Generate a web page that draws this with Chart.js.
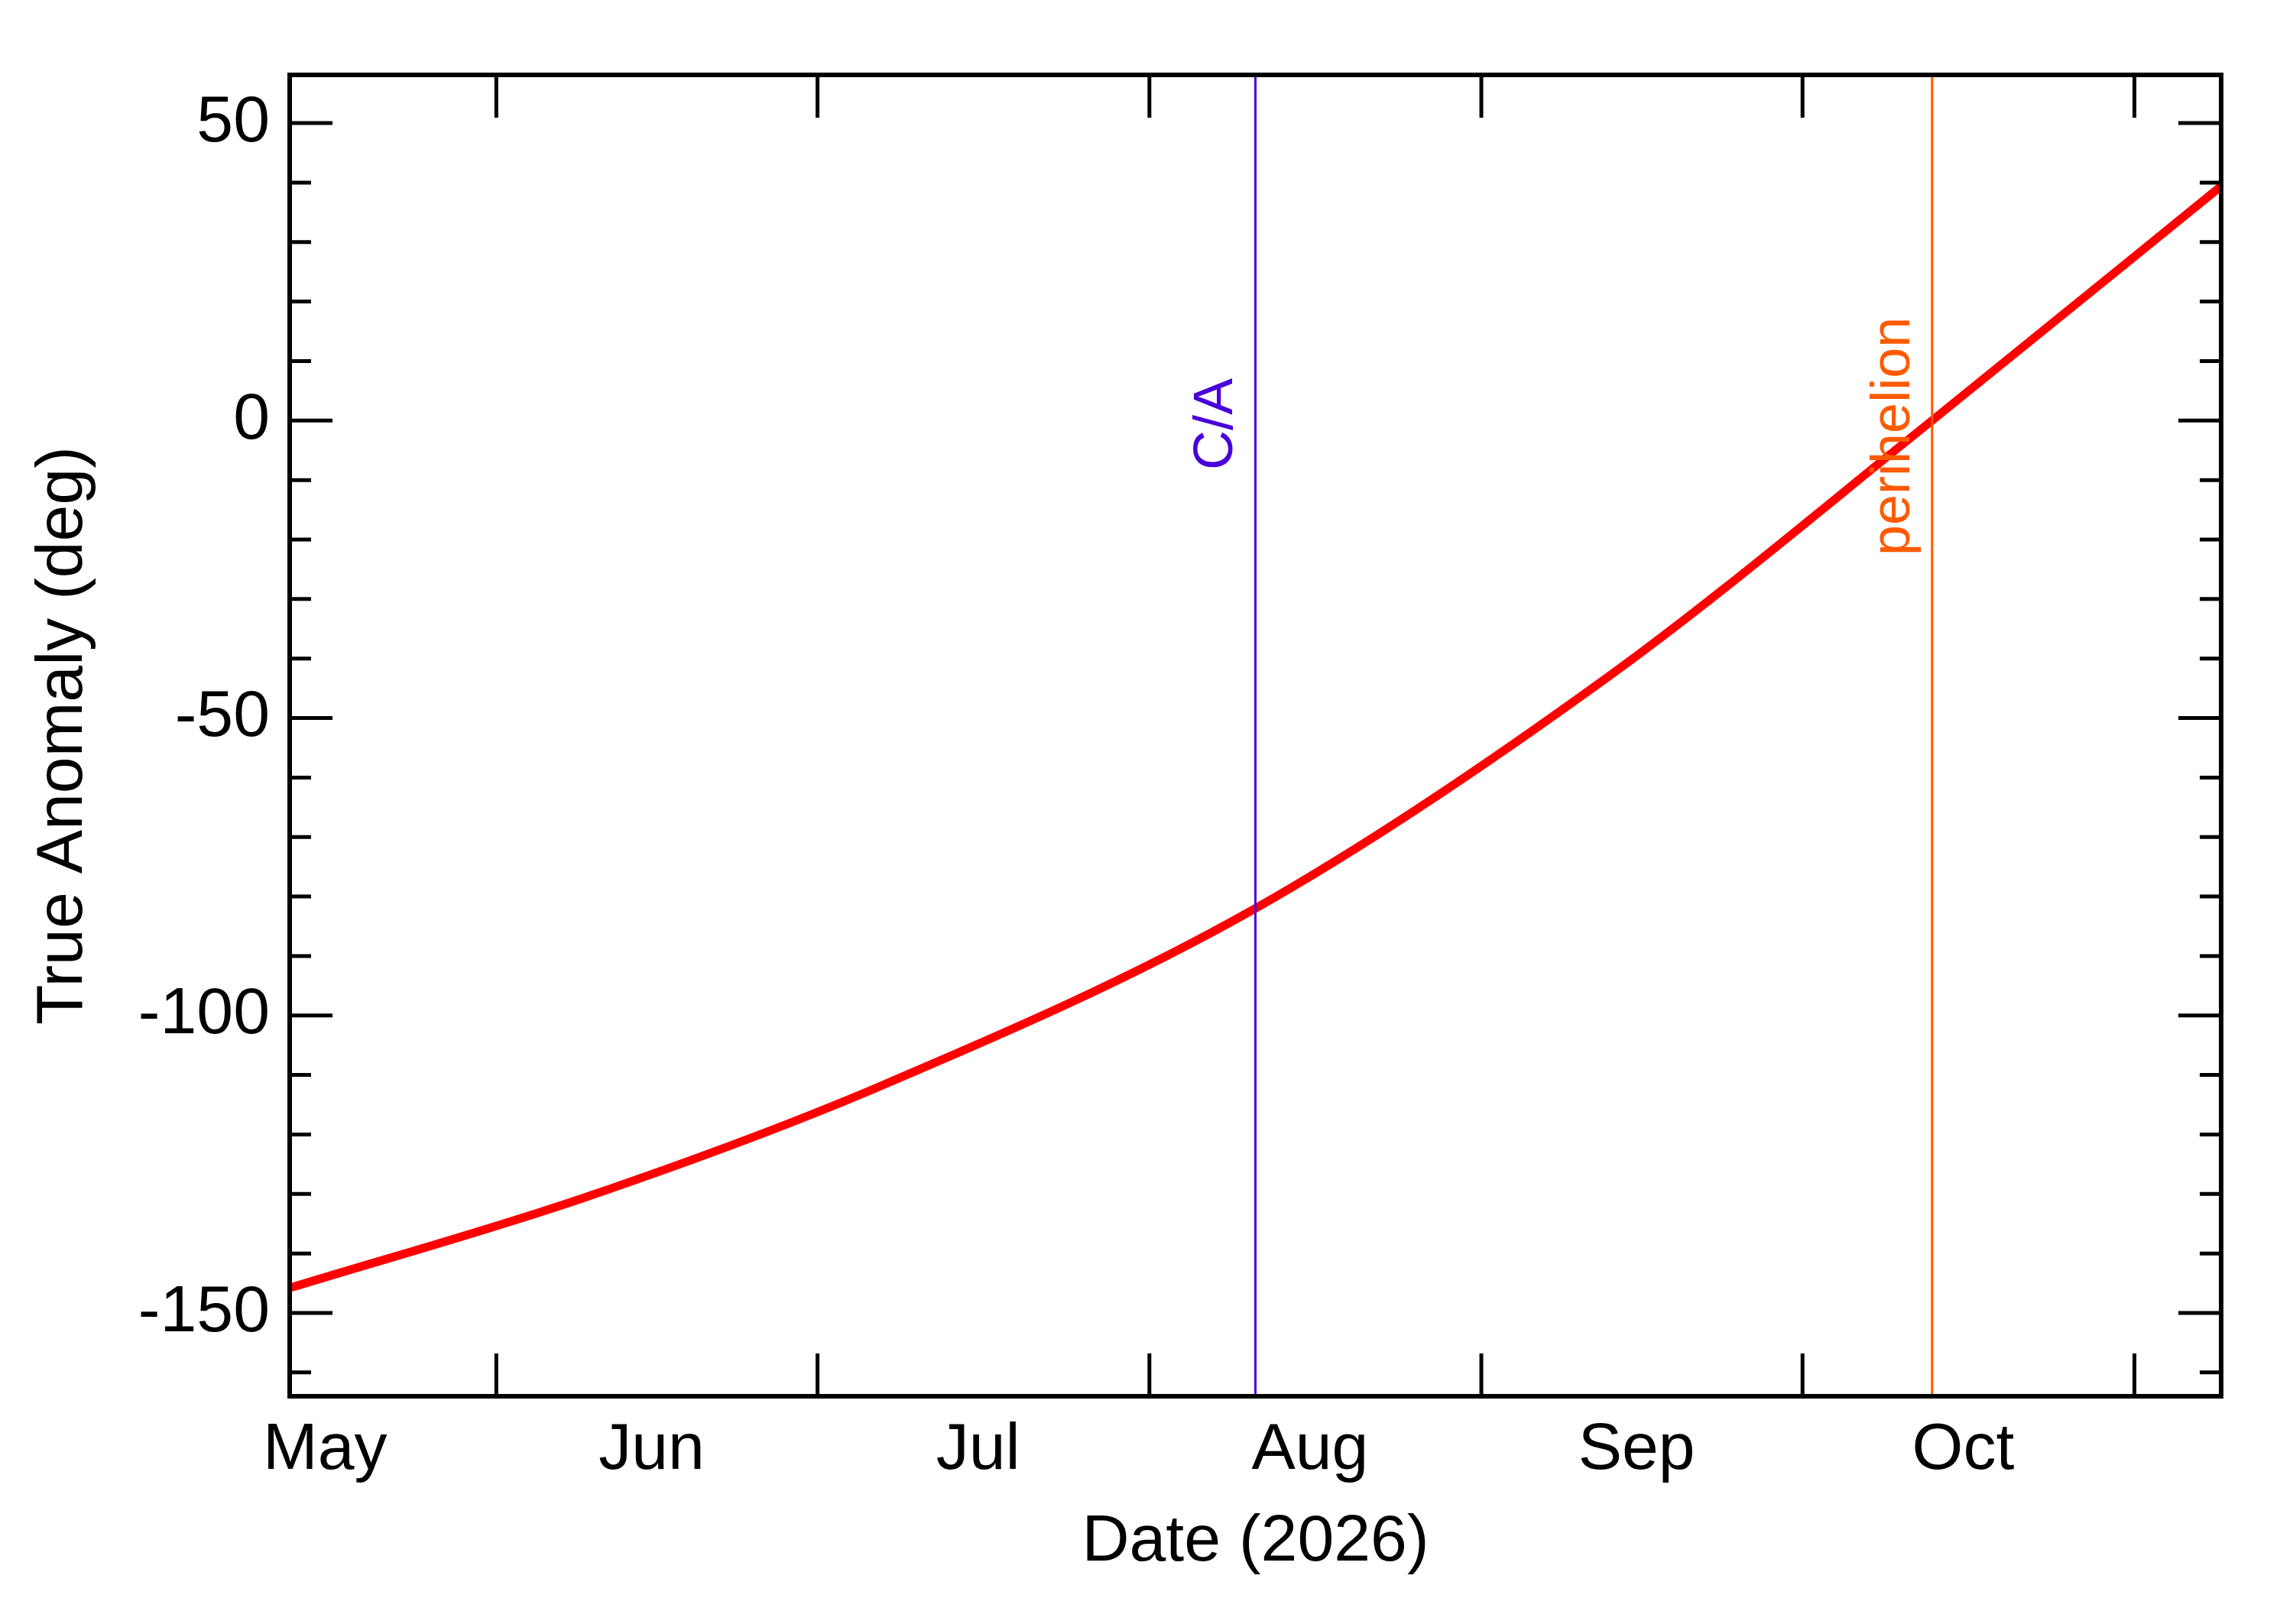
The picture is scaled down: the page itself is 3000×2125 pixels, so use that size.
<!DOCTYPE html>
<html><head><meta charset="utf-8">
<script src="https://cdn.jsdelivr.net/npm/chart.js@4"></script>
<style>html,body{margin:0;padding:0;background:#fff}#w{width:3000px;height:2125px}</style>
</head><body><div id="w"><canvas id="c" width="3000" height="2125"></canvas></div>
<script>
// day 0 = 2026-05-01
const days = [11.7, 39.4, 66.7, 101.9, 134.9, 165.1, 192.1];
const anomaly = [-145.8, -130.5, -112, -82, -43, 0, 39.4];
const monthLabels = ['May','Jun','Jul','Aug','Sep','Oct'];
const monthLabelDays = [15, 45.5, 76, 107, 137.5, 168];
const monthStartDays = [31, 61, 92, 123, 153, 184];
const yMajor = [-150, -100, -50, 0, 50];
const caDay = 101.9, periDay = 165.1;
const X0 = 11.7, X1 = 192.1, Y0 = -164, Y1 = 58.1;

const deco = {
  id:'deco',
  afterDatasetsDraw(ch){
    const c = ch.ctx, a = ch.chartArea, xs = ch.scales.x, ys = ch.scales.y;
    c.save();
    const ev = [[caDay,'#4a00d8'],[periDay,'#ff5a00']];
    ev.forEach(([d,col])=>{
      const x = xs.getPixelForValue(d);
      c.strokeStyle=col; c.lineWidth=3;
      c.beginPath(); c.moveTo(x,a.top); c.lineTo(x,a.bottom); c.stroke();
    });
    c.font='72px "Liberation Sans", Arial, sans-serif'; c.textBaseline='bottom';
    c.save(); c.fillStyle='#4a00d8'; c.translate(xs.getPixelForValue(caDay)-42, 615); c.rotate(-Math.PI/2); c.fillText('C/A',0,28); c.restore();
    c.save(); c.fillStyle='#ff5a00'; c.translate(xs.getPixelForValue(periDay)-42, 727); c.rotate(-Math.PI/2); c.fillText('perihelion',0,28); c.restore();
    c.strokeStyle='#000'; c.lineWidth=6;
    c.strokeRect(a.left,a.top,a.right-a.left,a.bottom-a.top);
    c.lineWidth=5;
    monthStartDays.forEach(d=>{
      const x = xs.getPixelForValue(d);
      c.beginPath(); c.moveTo(x,a.bottom); c.lineTo(x,a.bottom-56);
      c.moveTo(x,a.top); c.lineTo(x,a.top+56); c.stroke();
    });
    for(let v=-160; v<=50; v+=10){
      const y = ys.getPixelForValue(v), L = (v%50===0)?56:28;
      c.beginPath(); c.moveTo(a.left,y); c.lineTo(a.left+L,y);
      c.moveTo(a.right,y); c.lineTo(a.right-L,y); c.stroke();
    }
    c.restore();
  }
};

new Chart(document.getElementById('c'),{
  type:'line',
  data:{datasets:[{data:days.map((d,i)=>({x:d,y:anomaly[i]})),borderColor:'#ff0000',borderWidth:11,pointRadius:0,cubicInterpolationMode:'monotone'}]},
  options:{
    responsive:false, animation:false, devicePixelRatio:1,
    layout:{padding:{top:98,right:94,left:28,bottom:0}},
    plugins:{legend:{display:false},tooltip:{enabled:false}},
    scales:{
      x:{type:'linear',min:X0,max:X1,
        afterBuildTicks(s){s.ticks=monthLabelDays.map(v=>({value:v}));},
        afterFit(s){s.height=298;},
        grid:{display:false},border:{display:false},
        ticks:{autoSkip:false,maxRotation:0,padding:12,color:'#000',font:{size:86,family:'"Liberation Sans", Arial'},
          callback(v){const i=monthLabelDays.indexOf(v);return i>=0?monthLabels[i]:'';}},
        title:{display:true,text:'Date (2026)',color:'#000',font:{size:86,family:'"Liberation Sans", Arial'},padding:{top:0,bottom:55}}},
      y:{type:'linear',min:Y0,max:Y1,
        afterBuildTicks(s){s.ticks=yMajor.map(v=>({value:v}));},
        afterFit(s){s.width=351;},
        grid:{display:false},border:{display:false},
        ticks:{padding:18,color:'#000',font:{size:86,family:'"Liberation Sans", Arial'}},
        title:{display:true,text:'True Anomaly (deg)',color:'#000',font:{size:86,family:'"Liberation Sans", Arial'},padding:{bottom:10}}}
    }
  },
  plugins:[deco]
});
</script></body></html>
